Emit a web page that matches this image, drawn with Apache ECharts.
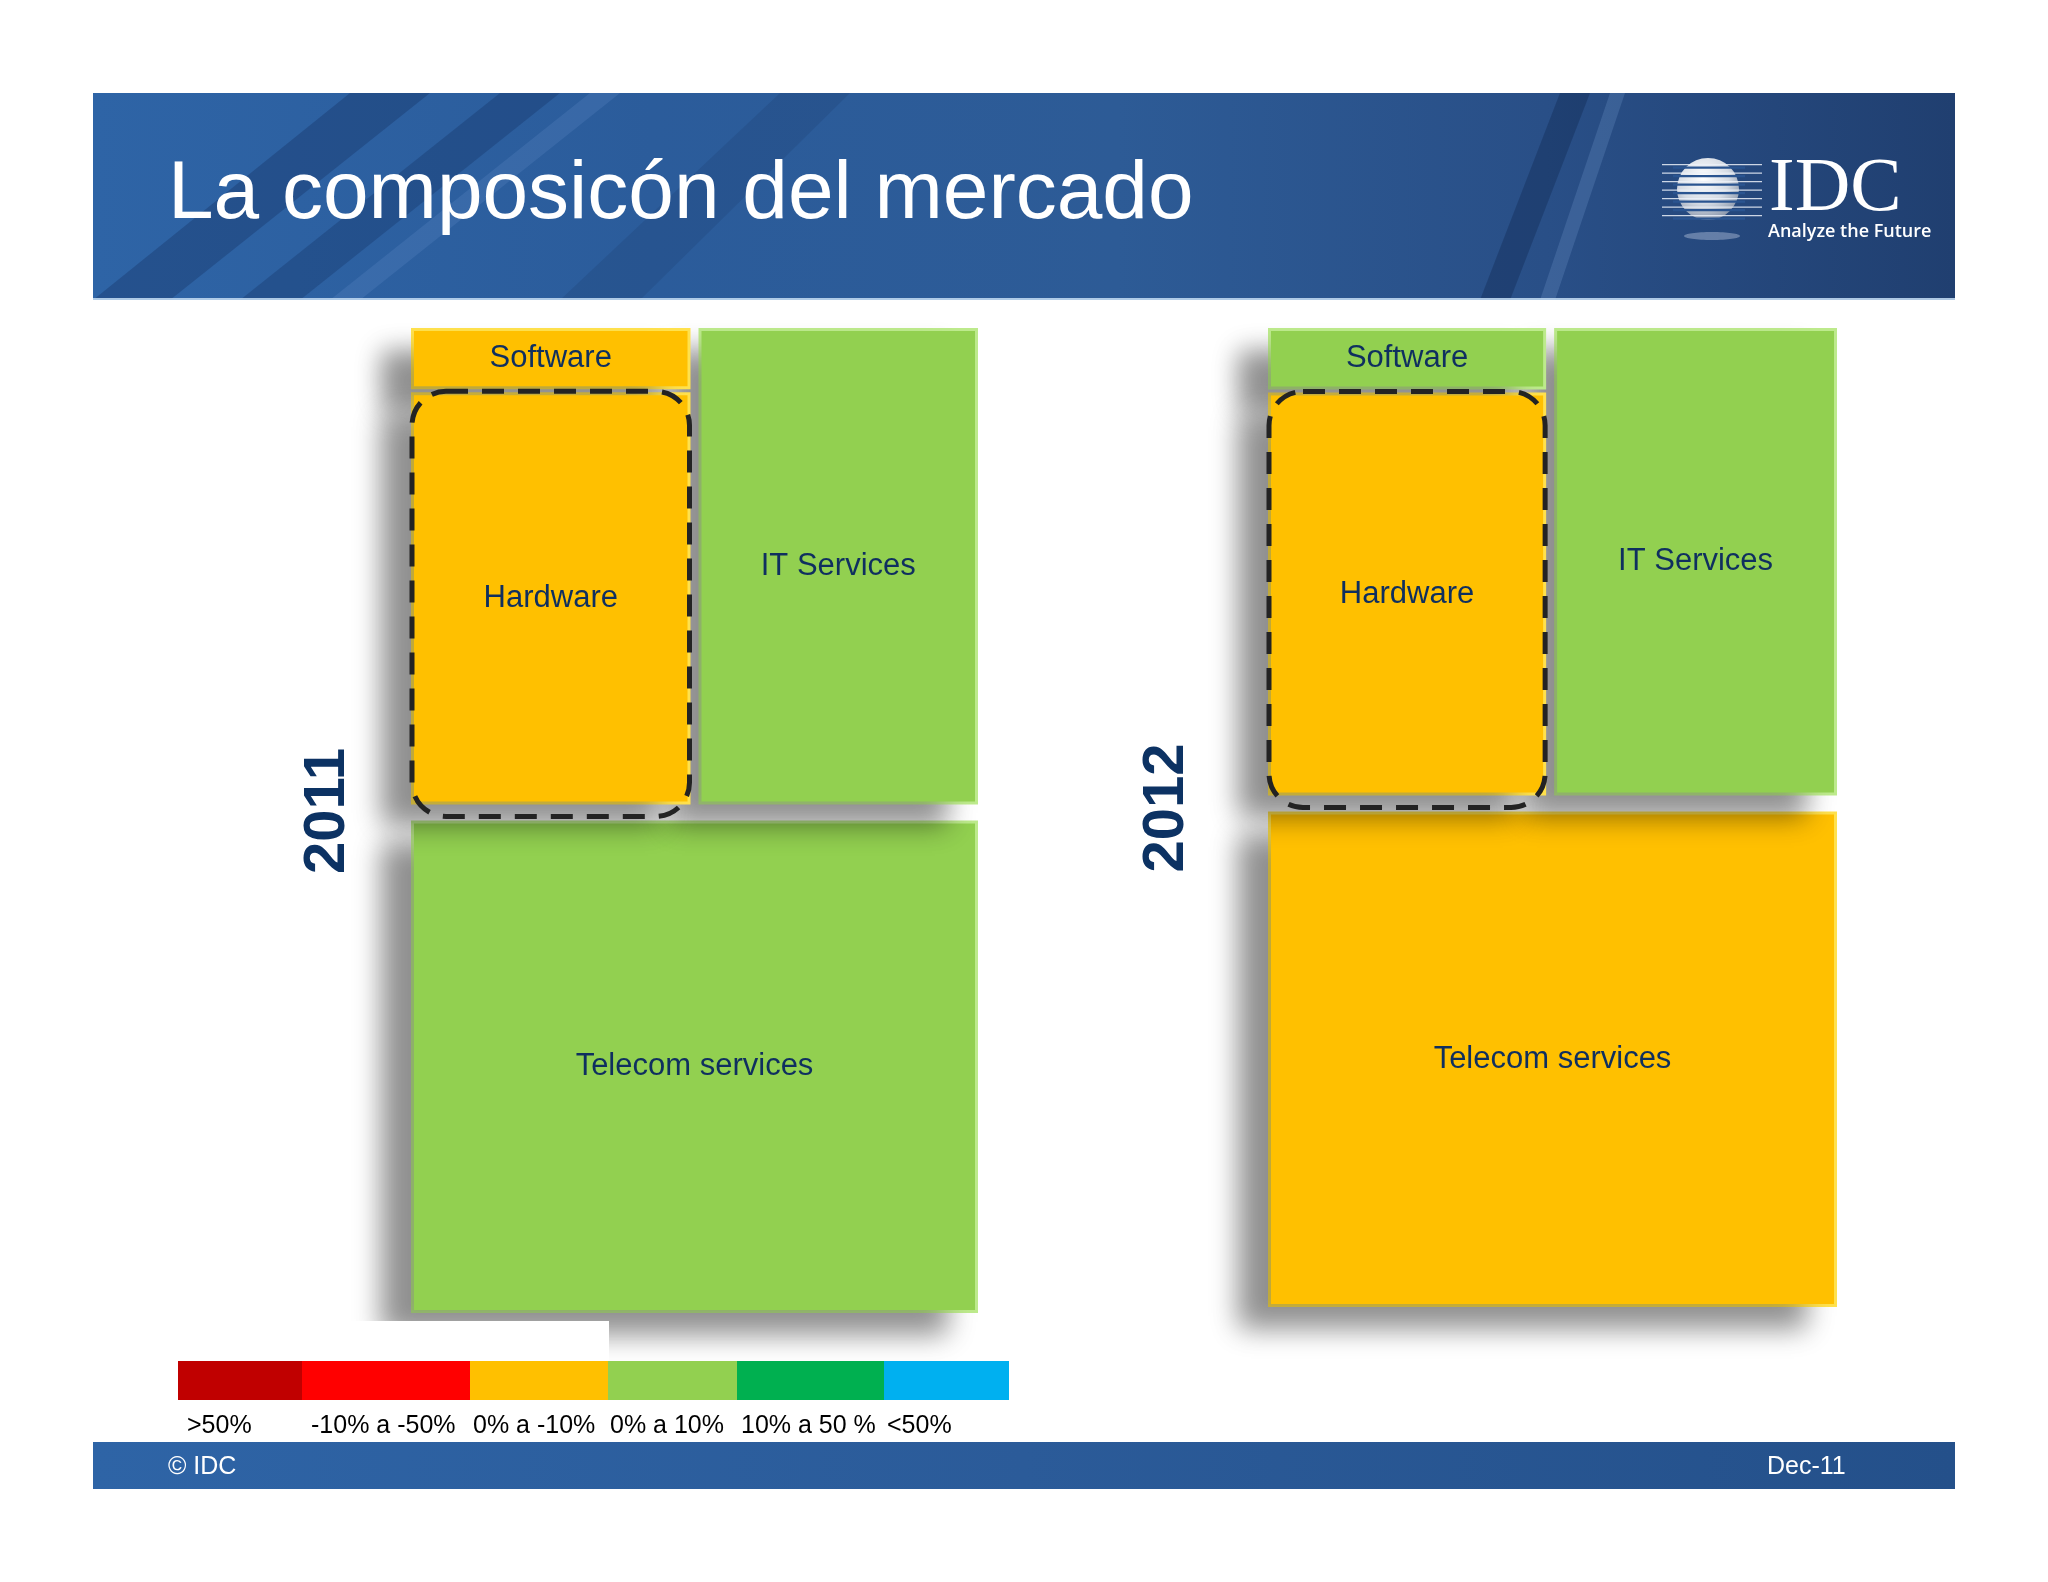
<!DOCTYPE html>
<html>
<head>
<meta charset="utf-8">
<script src="https://cdn.jsdelivr.net/npm/echarts@6/dist/echarts.min.js"></script>
<style>html,body{margin:0;padding:0;background:#ffffff}#c{width:2048px;height:1582px}</style>
</head>
<body>
<div id="c"></div>
<script>
// ---------------- data ----------------
const titleText = 'La composicón del mercado';
const years = ['2011', '2012'];
const segments = ['Software', 'Hardware', 'IT Services', 'Telecom services'];
const share2011 = [3.3, 21.3, 24.6, 50.8];
const share2012 = [3.3, 20.8, 24.5, 51.4];
// growth class of each segment (index into legendLabels / legendColors)
const growthClass2011 = [2, 2, 3, 3];
const growthClass2012 = [3, 2, 3, 2];
const legendLabels = ['>50%', '-10% a -50%', '0% a -10%', '0% a 10%', '10% a 50 %', '<50%'];
const legendColors = ['#C00000', '#FF0000', '#FFC000', '#92D050', '#00B050', '#00B0F0'];
const highlighted = 'Hardware';
const footerLeft = '\u00A9 IDC';
const footerRight = 'Dec-11';

// ---------------- styles / layout ----------------
const FONT = '"Liberation Sans", Arial, sans-serif';
const edgeColors = ['#DD4A4A', '#FF6A6A', '#FFE14D', '#BDEA8C', '#4CD08A', '#66D2FF'];
const boxes = [
  { left: 411, top: 328, width: 567, height: 985 },
  { left: 1268, top: 328, width: 569, height: 979 }
];
const legendEdges = [178, 302, 470, 608, 737, 884, 1009];
const legendLabelPad = [9, 9, 3, 2, 4, 3];

function leaf(i, shares, classes) {
  const c = classes[i];
  return {
    name: segments[i],
    value: shares[i],
    itemStyle: {
      color: legendColors[c],
      borderColor: edgeColors[c],
      borderWidth: 3,
      shadowBlur: 26,
      shadowColor: 'rgba(0,0,0,0.25)',
      shadowOffsetX: -30,
      shadowOffsetY: 22
    }
  };
}
function buildTree(shares, classes) {
  return [
    { name: 'Hardware + Software + IT', children: [
      { name: 'Hardware + Software', children: [leaf(0, shares, classes), leaf(1, shares, classes)] },
      leaf(2, shares, classes)
    ] },
    leaf(3, shares, classes)
  ];
}
function treemapSeries(idx, shares, classes) {
  const b = boxes[idx];
  return {
    type: 'treemap',
    name: years[idx],
    left: b.left, top: b.top, width: b.width, height: b.height,
    sort: false,
    squareRatio: 1,
    roam: false,
    nodeClick: false,
    breadcrumb: { show: false },
    animation: false,
    label: {
      show: true, position: 'inside', color: '#0F2F5F', fontSize: 31,
      fontFamily: FONT, align: 'center', verticalAlign: 'middle', padding: 0
    },
    emphasis: { disabled: true },
    levels: [
      { itemStyle: { gapWidth: 16, borderWidth: 0, borderColor: 'rgba(255,255,255,0)' } },
      { itemStyle: { gapWidth: 8, borderWidth: 0, borderColor: 'rgba(255,255,255,0)' } },
      { itemStyle: { gapWidth: 3, borderWidth: 0, borderColor: 'rgba(255,255,255,0)' } },
      {}
    ],
    data: buildTree(shares, classes)
  };
}

// ---------------- static graphics ----------------
const g = [];
// header band
g.push({ type: 'rect', z: 1, shape: { x: 93, y: 93, width: 1862, height: 207 },
  style: { fill: { type: 'linear', x: 0, y: 0, x2: 1, y2: 0, colorStops: [
    { offset: 0, color: '#2e64a6' }, { offset: 0.3, color: '#2b5c9b' }, { offset: 0.55, color: '#2d5b96' },
    { offset: 0.78, color: '#294f87' }, { offset: 1, color: '#203f70' } ] } } });
const streaks = [
  [[93, 300], [170, 300], [430, 93], [350, 93], 'rgba(15,40,85,0.30)'],
  [[240, 300], [300, 300], [560, 93], [500, 93], 'rgba(15,40,85,0.28)'],
  [[330, 300], [360, 300], [620, 93], [590, 93], 'rgba(140,180,235,0.14)'],
  [[560, 300], [640, 300], [850, 93], [780, 93], 'rgba(20,50,95,0.18)'],
  [[1480, 300], [1510, 300], [1590, 93], [1560, 93], 'rgba(10,30,65,0.30)'],
  [[1540, 300], [1555, 300], [1625, 93], [1610, 93], 'rgba(150,190,240,0.18)']
];
streaks.forEach(s => g.push({ type: 'polygon', z: 2, shape: { points: s.slice(0, 4) }, style: { fill: s[4] } }));
g.push({ type: 'rect', z: 3, shape: { x: 93, y: 298, width: 1862, height: 2 }, style: { fill: 'rgba(190,215,240,0.9)' } });
g.push({ type: 'text', z: 5, x: 168, y: 195, style: { text: titleText, fill: '#ffffff', font: '82px ' + FONT, verticalAlign: 'middle', align: 'left' } });
// IDC logo
g.push({ type: 'circle', z: 5, shape: { cx: 1708, cy: 189, r: 31 }, style: { fill: { type: 'radial', x: 0.42, y: 0.32, r: 0.75, colorStops: [
  { offset: 0, color: '#ffffff' }, { offset: 0.55, color: '#d5dbe4' }, { offset: 1, color: '#7d8ba2' } ] } } });
for (let k = 0; k < 7; k++) {
  const yy = 164 + k * 8.5;
  g.push({ type: 'rect', z: 6, shape: { x: 1673, y: yy + 2.5, width: 72, height: 2.2 }, style: { fill: '#2a5490' } });
  g.push({ type: 'rect', z: 7, shape: { x: 1662, y: yy, width: 100, height: 1.3 }, style: { fill: 'rgba(235,240,248,0.85)' } });
}
g.push({ type: 'ellipse', z: 5, shape: { cx: 1712, cy: 236, rx: 28, ry: 4 }, style: { fill: 'rgba(220,230,245,0.35)' } });
g.push({ type: 'text', z: 6, x: 1769, y: 190, style: { text: 'IDC', fill: '#ffffff', font: '77px "Liberation Serif", "Times New Roman", serif', verticalAlign: 'middle', align: 'left' } });
g.push({ type: 'text', z: 6, x: 1768, y: 232, style: { text: 'Analyze the Future', fill: '#ffffff', font: '600 18px "Open Sans", sans-serif', verticalAlign: 'middle', align: 'left' } });
// year labels
const yearPos = [[328, 811], [1167, 808]];
years.forEach((y, i) => g.push({ type: 'text', z: 5, x: yearPos[i][0], y: yearPos[i][1], rotation: Math.PI / 2,
  style: { text: y, fill: '#0C3263', font: 'bold 58px ' + FONT, align: 'center', verticalAlign: 'middle' } }));
// legend panel (covers shadow like the slide's white box)
g.push({ type: 'rect', z: 50, shape: { x: 93, y: 1321, width: 516, height: 121 }, style: { fill: '#ffffff' } });
legendLabels.forEach((lab, i) => {
  g.push({ type: 'rect', z: 60, shape: { x: legendEdges[i], y: 1361, width: legendEdges[i + 1] - legendEdges[i], height: 39 },
    style: { fill: legendColors[i] } });
  g.push({ type: 'text', z: 60, x: legendEdges[i] + legendLabelPad[i], y: 1426,
    style: { text: lab, fill: '#000000', font: '25px ' + FONT, verticalAlign: 'middle', align: 'left' } });
});
// footer band
g.push({ type: 'rect', z: 55, shape: { x: 93, y: 1442, width: 1862, height: 47 },
  style: { fill: { type: 'linear', x: 0, y: 0, x2: 1, y2: 0, colorStops: [
    { offset: 0, color: '#2e64a6' }, { offset: 0.5, color: '#2b5b99' }, { offset: 1, color: '#24508a' } ] } } });
g.push({ type: 'text', z: 60, x: 168, y: 1467, style: { text: footerLeft, fill: '#ffffff', font: '25px ' + FONT, verticalAlign: 'middle', align: 'left' } });
g.push({ type: 'text', z: 60, x: 1767, y: 1467, style: { text: footerRight, fill: '#ffffff', font: '25px ' + FONT, verticalAlign: 'middle', align: 'left' } });

const chart = echarts.init(document.getElementById('c'), null, { renderer: 'canvas' });
chart.setOption({
  backgroundColor: '#ffffff',
  animation: false,
  graphic: { elements: g },
  series: [
    treemapSeries(0, share2011, growthClass2011),
    treemapSeries(1, share2012, growthClass2012)
  ]
});

// dashed highlight outline around the highlighted cell
function cellRect(si, name) {
  const sm = chart.getModel().getSeriesByIndex(si);
  const tree = sm.getData().tree;
  let target = null;
  tree.eachNode(n => { if (!target && n.name === name) target = n; });
  const lay = target.getLayout();
  let x = 0, y = 0, n = target;
  while (n) { const L = n.getLayout(); if (L) { x += L.x || 0; y += L.y || 0; } n = n.parentNode; }
  const b = boxes[si];
  if (x < b.left - 2 || y < b.top - 2) { x += b.left; y += b.top; }
  return { x, y, width: lay.width, height: lay.height };
}
try {
  const outlines = [];
  [0, 1].forEach(si => {
    const r = cellRect(si, highlighted);
    outlines.push({ type: 'rect', z: 100, shape: { x: r.x + 1, y: r.y - 1, width: r.width - 2, height: r.height + 13, r: 34 },
      style: { fill: 'none', stroke: '#232323', lineWidth: 5, lineDash: [22, 14] } });
  });
  chart.setOption({ graphic: { elements: g.concat(outlines) } });
} catch (e) { console.error(e); }
</script>
</body>
</html>
